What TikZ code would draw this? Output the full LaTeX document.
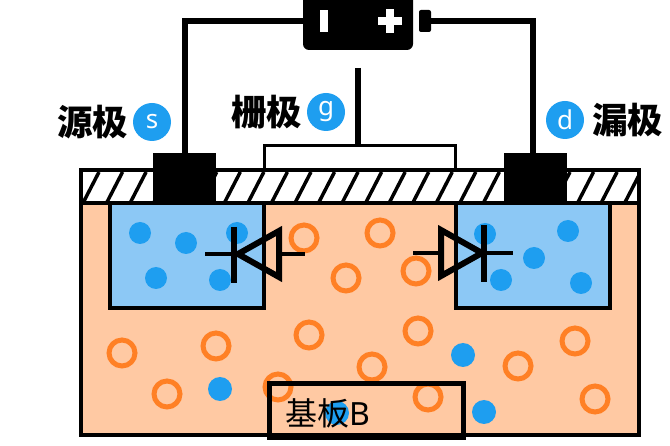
\documentclass[tikz,border=0pt]{standalone}
\usepackage{fontspec}
\setmainfont{Noto Sans}
\newfontfamily\cjk{Noto Sans CJK SC}
\usetikzlibrary{positioning}
\definecolor{subfill}{HTML}{FFC9A3}
\definecolor{wellfill}{HTML}{8CC8F5}
\definecolor{dotblue}{HTML}{1E9EF0}
\definecolor{ringor}{HTML}{FF8025}
\tikzset{
  wire/.style={line width=6pt},
  wellbox/.style={rectangle, draw, fill=wellfill, line width=4.5pt, inner sep=0pt, outer sep=0pt, minimum width=154pt, minimum height=105pt},
  contact/.style={rectangle, fill=black, inner sep=0pt, outer sep=0pt, minimum width=63pt, minimum height=48pt},
  carrier/.style={circle, fill=dotblue, inner sep=0pt, outer sep=0pt, minimum size=22pt},
  bigcarrier/.style={carrier, minimum size=24pt},
  hole/.style={circle, draw=ringor, line width=5pt, inner sep=0pt, outer sep=0pt, minimum size=26pt},
  badge/.style={circle, fill=dotblue, text=white, inner sep=0pt, outer sep=0pt, minimum size=38pt, font=\fontsize{26}{28}\selectfont},
  pinlabel/.style={inner sep=0pt, outer sep=0pt, font=\cjk\bfseries\fontsize{35.5}{38}\selectfont},
  diodeline/.style={line width=6pt, miter limit=10},
}
\begin{document}
\begin{tikzpicture}[x=1pt, y=-1pt]
    \useasboundingbox (0,0) rectangle (670,446);

    % substrate and oxide
    \fill [subfill] (81,170) rectangle (639,435);
    \fill [white] (81,170) rectangle (639,203);
    \begin{scope}
        \clip (81,170) rectangle (639,203);
        \foreach \k in {0,...,24}
            \draw [line width=3.5pt] ({83+23.55*\k},203) -- ({99+23.55*\k},172);
    \end{scope}

    % wells
    \node (wellL) [wellbox] at (187,255.5) {};
    \node (wellR) [wellbox] at (533,255.5) {};

    % outline on top of the wells
    \draw [line width=4.5pt] (81,170) rectangle (639,435);
    \draw [line width=4.5pt] (81,203) -- (639,203);

    % gate
    \node (gate) [rectangle, draw, line width=2.5pt, fill=white, inner sep=0pt, outer sep=0pt, minimum width=191pt, minimum height=24pt] at (360,157.5) {};

    % carriers
    \foreach \x/\y [count=\i] in {140/233, 186/243, 237/233, 156/278, 220/280,
                                  485/234, 568/231, 534/258, 501/280, 581/283}
        \node (e\i) [carrier] at (\x,\y) {};
    \foreach \x/\y [count=\i] in {220/389, 463/355, 484/412, 337/413}
        \node (b\i) [bigcarrier] at (\x,\y) {};
    \foreach \x/\y [count=\i] in {304/238, 346/278, 122/353, 216/346, 309/335, 167/394, 278/387,
                                  380/233, 416/271, 418/331, 372/367, 428/397, 518/366, 575/341, 595/399}
        \node (h\i) [hole] at (\x,\y) {};

    % contacts
    \node (srcpad) [contact] at (184.5,177) {};
    \node (drnpad) [contact] at (535.5,177) {};

    % battery
    \node (batt) [rectangle, fill=black, rounded corners=6pt, inner sep=0pt, outer sep=0pt, minimum width=110pt, minimum height=58pt] at (358,21) {};
    \node (tip) [rectangle, fill=black, rounded corners=2pt, inner sep=0pt, outer sep=0pt, minimum width=12pt, minimum height=22pt] at (425,21) {};
    \node (minus) [rectangle, fill=white, inner sep=0pt, minimum width=8pt, minimum height=22pt] at (324,21) {};
    \node (plusa) [rectangle, fill=white, inner sep=0pt, minimum width=24pt, minimum height=8pt] at (390,21) {};
    \node (plusb) [rectangle, fill=white, inner sep=0pt, minimum width=8pt, minimum height=24pt] at (390,21) {};

    % wires
    \coordinate (gatein) at (358,68);
    \draw [wire] (batt.west) -| ([xshift=0.5pt]srcpad.north);
    \draw [wire] (tip.east) -| ([xshift=-2.5pt]drnpad.north);
    \draw [wire] (gatein) -- (gatein |- gate.north);

    % diodes
    \draw [diodeline] (238,254) -- (279,231) -- (279,277) -- cycle;
    \draw [line width=4pt] (205,254) -- (234,254) (280,254) -- (305,254);
    \draw [line width=6pt] (234,227) -- (234,283);
    \draw [diodeline] (482,253) -- (441,230) -- (441,276) -- cycle;
    \draw [line width=4pt] (413,253) -- (440,253) (484,253) -- (513,253);
    \draw [line width=6pt] (484,225) -- (484,282);

    % labels
    \node (s) [badge] at (152,122) {s};
    \node (g) [badge] at (326,112) {g};
    \node (d) [badge] at (565,120) {d};
    \node (srclabel) [pinlabel, left=5pt of s] {源极};
    \node (gatelabel) [pinlabel, left=5pt of g] {栅极};
    \node (drnlabel) [pinlabel, right=8pt of d] {漏极};

    % base
    \node (base) [rectangle, draw, line width=5pt, inner sep=0pt, outer sep=0pt, minimum width=194pt, minimum height=54pt] at (366,411) {};
    \node (baselabel) [inner sep=0pt, font=\fontsize{32}{34}\selectfont] at (328,413) {{\cjk 基板}B};
\end{tikzpicture}
\end{document}
